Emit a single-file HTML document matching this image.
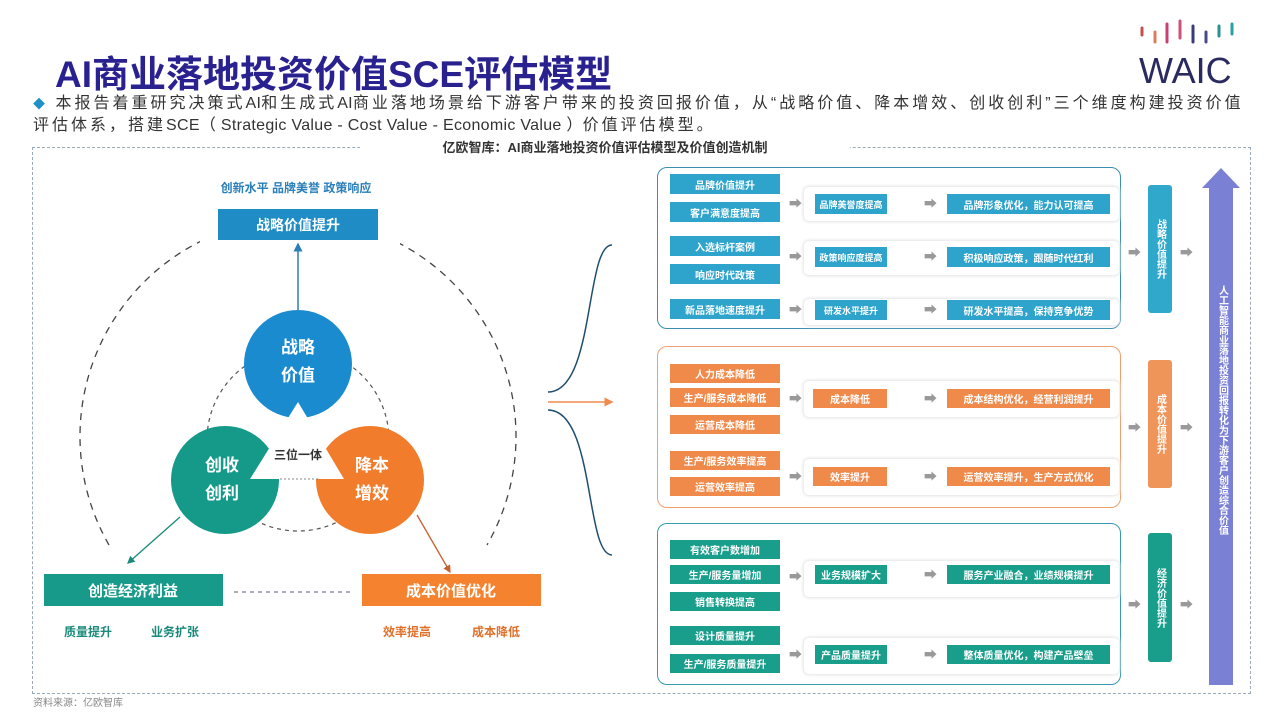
<!DOCTYPE html>
<html><head><meta charset="utf-8"><style>
body{margin:0;width:1280px;height:720px;background:#fff;position:relative;overflow:hidden;font-family:"Liberation Sans","Noto Sans CJK SC",sans-serif}
.a{position:absolute}
.b{position:absolute;color:#fff;font-size:10px;font-weight:bold;display:flex;align-items:center;justify-content:center;white-space:nowrap;overflow:hidden}
.bl{background:#2ea3cc}.or{background:#f08a4b}.te{background:#1a9e8c}
.ar{position:absolute;color:#999;font-size:13px;line-height:10px}
.v{position:absolute;color:#fff;font-size:10px;font-weight:bold;writing-mode:vertical-rl;display:flex;align-items:center;justify-content:center;border-radius:3px}
.panel{position:absolute;border-radius:10px;border:1.5px solid}
.row{position:absolute;border:1px solid #eee;border-radius:6px;box-shadow:0 0 3px #e4e4e4}
.s{font-size:9px}
.l{letter-spacing:0.3px}
</style></head><body>
<div class="a" style="left:55px;top:44px;font-size:37px;font-weight:bold;color:#2a2190;letter-spacing:0px">AI商业落地投资价值SCE评估模型</div>
<svg class="a" style="left:1135px;top:18px" width="120" height="70">
<g stroke-width="3" stroke-linecap="round">
<line x1="7" y1="10" x2="7" y2="17" stroke="#c0504d"/><line x1="20" y1="14" x2="20" y2="24" stroke="#e07a5f"/><line x1="32" y1="6" x2="32" y2="24" stroke="#c94070"/><line x1="45" y1="3" x2="45" y2="20" stroke="#d0507a"/><line x1="58" y1="8" x2="58" y2="24" stroke="#3a3a7a"/><line x1="71" y1="14" x2="71" y2="24" stroke="#4a4a8a"/><line x1="84" y1="8" x2="84" y2="18" stroke="#2a9090"/><line x1="97" y1="6" x2="97" y2="16" stroke="#2aa0a0"/></g>
<text x="4" y="65" font-size="36" fill="#2a2a60" font-family="Liberation Sans">WAIC</text></svg>
<div class="a" style="left:33px;top:93px;font-size:16px;color:#333;line-height:21px;width:1240px;letter-spacing:3px;white-space:nowrap"><span style="color:#1e8fc8;font-size:12px">◆</span> 本报告着重研究决策式<span class="l">AI</span>和生成式<span class="l">AI</span>商业落地场景给下游客户带来的投资回报价值，从“战略价值、降本增效、创收创利”三个维度构建投资价值<br>评估体系，搭建<span class="l">SCE（ Strategic Value - Cost Value - Economic Value ）</span>价值评估模型。</div>
<div class="a" style="left:32px;top:147px;width:1217px;height:545px;border:1px dashed #9ab"></div>
<div class="a" style="left:360px;top:137px;width:490px;height:20px;background:#fff;text-align:center;font-size:13px;font-weight:bold;color:#333">亿欧智库：AI商业落地投资价值评估模型及价值创造机制</div>

<svg class="a" style="left:0;top:0" width="650" height="720">
<defs><marker id="m" markerWidth="6" markerHeight="6" refX="5" refY="3" orient="auto"><path d="M0,0L6,3L0,6z" fill="context-stroke"/></marker></defs>
<path d="M109,545 A218,218 0 1 1 487,545" fill="none" stroke="#444" stroke-width="1.3" stroke-dasharray="7,6"/>
<rect x="200" y="200" width="200" height="45" fill="#fff"/>
<circle cx="298" cy="440" r="91" fill="none" stroke="#555" stroke-width="1.2" stroke-dasharray="4,4"/>
<line x1="298" y1="310" x2="298" y2="244" stroke="#2a7fb8" stroke-width="1.5" marker-end="url(#m)"/>
<line x1="180" y1="517" x2="128" y2="563" stroke="#1a8a7a" stroke-width="1.3" marker-end="url(#m)"/>
<line x1="417" y1="515" x2="450" y2="572" stroke="#c86030" stroke-width="1.3" marker-end="url(#m)"/>
<circle cx="298" cy="364" r="54" fill="#1b8bd0"/>
<circle cx="225" cy="480" r="54" fill="#159a8a"/>
<circle cx="370" cy="480" r="54" fill="#f07c2c"/>
<polygon points="298,402 250,479 344,479" fill="#fff"/>
<line x1="280" y1="479" x2="320" y2="479" stroke="#888" stroke-dasharray="2,2"/>
<text x="298" y="459" font-size="12" fill="#333" text-anchor="middle" font-weight="bold">三位一体</text>
<g fill="#fff" font-size="17" font-weight="bold" text-anchor="middle">
<text x="298" y="353">战略</text><text x="298" y="381">价值</text>
<text x="222" y="471">创收</text><text x="222" y="499">创利</text>
<text x="372" y="471">降本</text><text x="372" y="499">增效</text></g>
<text x="296" y="192" font-size="12" fill="#2a7fb8" text-anchor="middle" font-weight="bold">创新水平  品牌美誉  政策响应</text>
<rect x="218" y="209" width="160" height="31" fill="#1f8cc6"/>
<text x="298" y="230" font-size="14" fill="#fff" text-anchor="middle" font-weight="bold">战略价值提升</text>
<rect x="44" y="574" width="179" height="32" fill="#179a8a"/>
<text x="133" y="596" font-size="15" fill="#fff" text-anchor="middle" font-weight="bold">创造经济利益</text>
<rect x="362" y="574" width="179" height="32" fill="#f4822e"/>
<text x="451" y="596" font-size="15" fill="#fff" text-anchor="middle" font-weight="bold">成本价值优化</text>
<line x1="234" y1="592" x2="352" y2="592" stroke="#557" stroke-dasharray="4,4"/>
<g font-size="12" font-weight="bold"><text x="64" y="636" fill="#1a8a7a">质量提升</text><text x="151" y="636" fill="#1a8a7a">业务扩张</text>
<text x="383" y="636" fill="#e0702a">效率提高</text><text x="472" y="636" fill="#e0702a">成本降低</text></g>
<path d="M548,392 C595,392 585,245 612,245" fill="none" stroke="#1f4f6f" stroke-width="1.5"/>
<path d="M548,410 C595,410 585,555 612,555" fill="none" stroke="#1f4f6f" stroke-width="1.5"/>
<line x1="548" y1="402" x2="612" y2="402" stroke="#f08a4b" stroke-width="1.5" marker-end="url(#m)"/>
</svg>

<div class="panel" style="left:657px;top:167px;width:462px;height:160px;border-color:#3a8fb0"></div>
<div class="panel" style="left:657px;top:346px;width:462px;height:160px;border-color:#f0a070"></div>
<div class="panel" style="left:657px;top:523px;width:462px;height:160px;border-color:#3a9ab0"></div>

<div class="row" style="left:803px;top:186px;width:315px;height:34px"></div>
<div class="row" style="left:803px;top:240px;width:315px;height:34px"></div>
<div class="row" style="left:803px;top:298px;width:315px;height:26px"></div>
<div class="row" style="left:803px;top:380px;width:315px;height:36px"></div>
<div class="row" style="left:803px;top:458px;width:315px;height:36px"></div>
<div class="row" style="left:803px;top:560px;width:315px;height:36px"></div>
<div class="row" style="left:803px;top:637px;width:315px;height:36px"></div>

<div class="b bl" style="left:670px;top:174px;width:110px;height:20px">品牌价值提升</div>
<div class="b bl" style="left:670px;top:202px;width:110px;height:20px">客户满意度提高</div>
<div class="b bl" style="left:670px;top:236px;width:110px;height:20px">入选标杆案例</div>
<div class="b bl" style="left:670px;top:264px;width:110px;height:20px">响应时代政策</div>
<div class="b bl" style="left:670px;top:299px;width:110px;height:20px">新品落地速度提升</div>
<div class="b bl s" style="left:815px;top:194px;width:72px;height:20px">品牌美誉度提高</div>
<div class="b bl s" style="left:815px;top:247px;width:72px;height:20px">政策响应度提高</div>
<div class="b bl s" style="left:815px;top:300px;width:72px;height:20px">研发水平提升</div>
<div class="b bl" style="left:947px;top:194px;width:163px;height:20px">品牌形象优化，能力认可提高</div>
<div class="b bl" style="left:947px;top:247px;width:163px;height:20px">积极响应政策，跟随时代红利</div>
<div class="b bl" style="left:947px;top:300px;width:163px;height:20px">研发水平提高，保持竞争优势</div>

<div class="b or" style="left:670px;top:364px;width:110px;height:19px">人力成本降低</div>
<div class="b or" style="left:670px;top:388px;width:110px;height:19px">生产/服务成本降低</div>
<div class="b or" style="left:670px;top:415px;width:110px;height:19px">运营成本降低</div>
<div class="b or" style="left:670px;top:451px;width:110px;height:19px">生产/服务效率提高</div>
<div class="b or" style="left:670px;top:477px;width:110px;height:19px">运营效率提高</div>
<div class="b or" style="left:813px;top:389px;width:74px;height:19px">成本降低</div>
<div class="b or" style="left:947px;top:389px;width:163px;height:19px">成本结构优化，经营利润提升</div>
<div class="b or" style="left:813px;top:467px;width:74px;height:19px">效率提升</div>
<div class="b or" style="left:947px;top:467px;width:163px;height:19px">运营效率提升，生产方式优化</div>

<div class="b te" style="left:670px;top:540px;width:110px;height:19px">有效客户数增加</div>
<div class="b te" style="left:670px;top:565px;width:110px;height:19px">生产/服务量增加</div>
<div class="b te" style="left:670px;top:592px;width:110px;height:19px">销售转换提高</div>
<div class="b te" style="left:670px;top:626px;width:110px;height:19px">设计质量提升</div>
<div class="b te" style="left:670px;top:654px;width:110px;height:19px">生产/服务质量提升</div>
<div class="b te" style="left:815px;top:565px;width:72px;height:19px">业务规模扩大</div>
<div class="b te" style="left:947px;top:565px;width:163px;height:19px">服务产业融合，业绩规模提升</div>
<div class="b te" style="left:815px;top:645px;width:72px;height:19px">产品质量提升</div>
<div class="b te" style="left:947px;top:645px;width:163px;height:19px">整体质量优化，构建产品壁垒</div>

<div class="ar" style="left:789px;top:199px">➡</div><div class="ar" style="left:924px;top:199px">➡</div>
<div class="ar" style="left:789px;top:252px">➡</div><div class="ar" style="left:924px;top:252px">➡</div>
<div class="ar" style="left:789px;top:305px">➡</div><div class="ar" style="left:924px;top:305px">➡</div>
<div class="ar" style="left:789px;top:394px">➡</div><div class="ar" style="left:924px;top:394px">➡</div>
<div class="ar" style="left:789px;top:472px">➡</div><div class="ar" style="left:924px;top:472px">➡</div>
<div class="ar" style="left:789px;top:572px">➡</div><div class="ar" style="left:924px;top:570px">➡</div>
<div class="ar" style="left:789px;top:650px">➡</div><div class="ar" style="left:924px;top:650px">➡</div>
<div class="ar" style="left:1128px;top:248px">➡</div><div class="ar" style="left:1180px;top:248px">➡</div>
<div class="ar" style="left:1128px;top:423px">➡</div><div class="ar" style="left:1180px;top:423px">➡</div>
<div class="ar" style="left:1128px;top:600px">➡</div><div class="ar" style="left:1180px;top:600px">➡</div>

<div class="v" style="left:1148px;top:185px;width:24px;height:128px;background:#30a8cc">战略价值提升</div>
<div class="v" style="left:1148px;top:360px;width:24px;height:128px;background:#f0955a">成本价值提升</div>
<div class="v" style="left:1148px;top:533px;width:24px;height:129px;background:#1a9e8c">经济价值提升</div>

<svg class="a" style="left:1200px;top:166px" width="42" height="520"><polygon points="21,2 40,22 33,22 33,519 9,519 9,22 2,22" fill="#7a80d4"/></svg>
<div class="v" style="left:1209px;top:260px;width:26px;height:300px;font-size:10px">人工智能商业落地投资回报转化为下游客户创造综合价值</div>
<div class="a" style="left:33px;top:694px;font-size:10px;color:#888">资料来源：亿欧智库</div>
</body></html>
